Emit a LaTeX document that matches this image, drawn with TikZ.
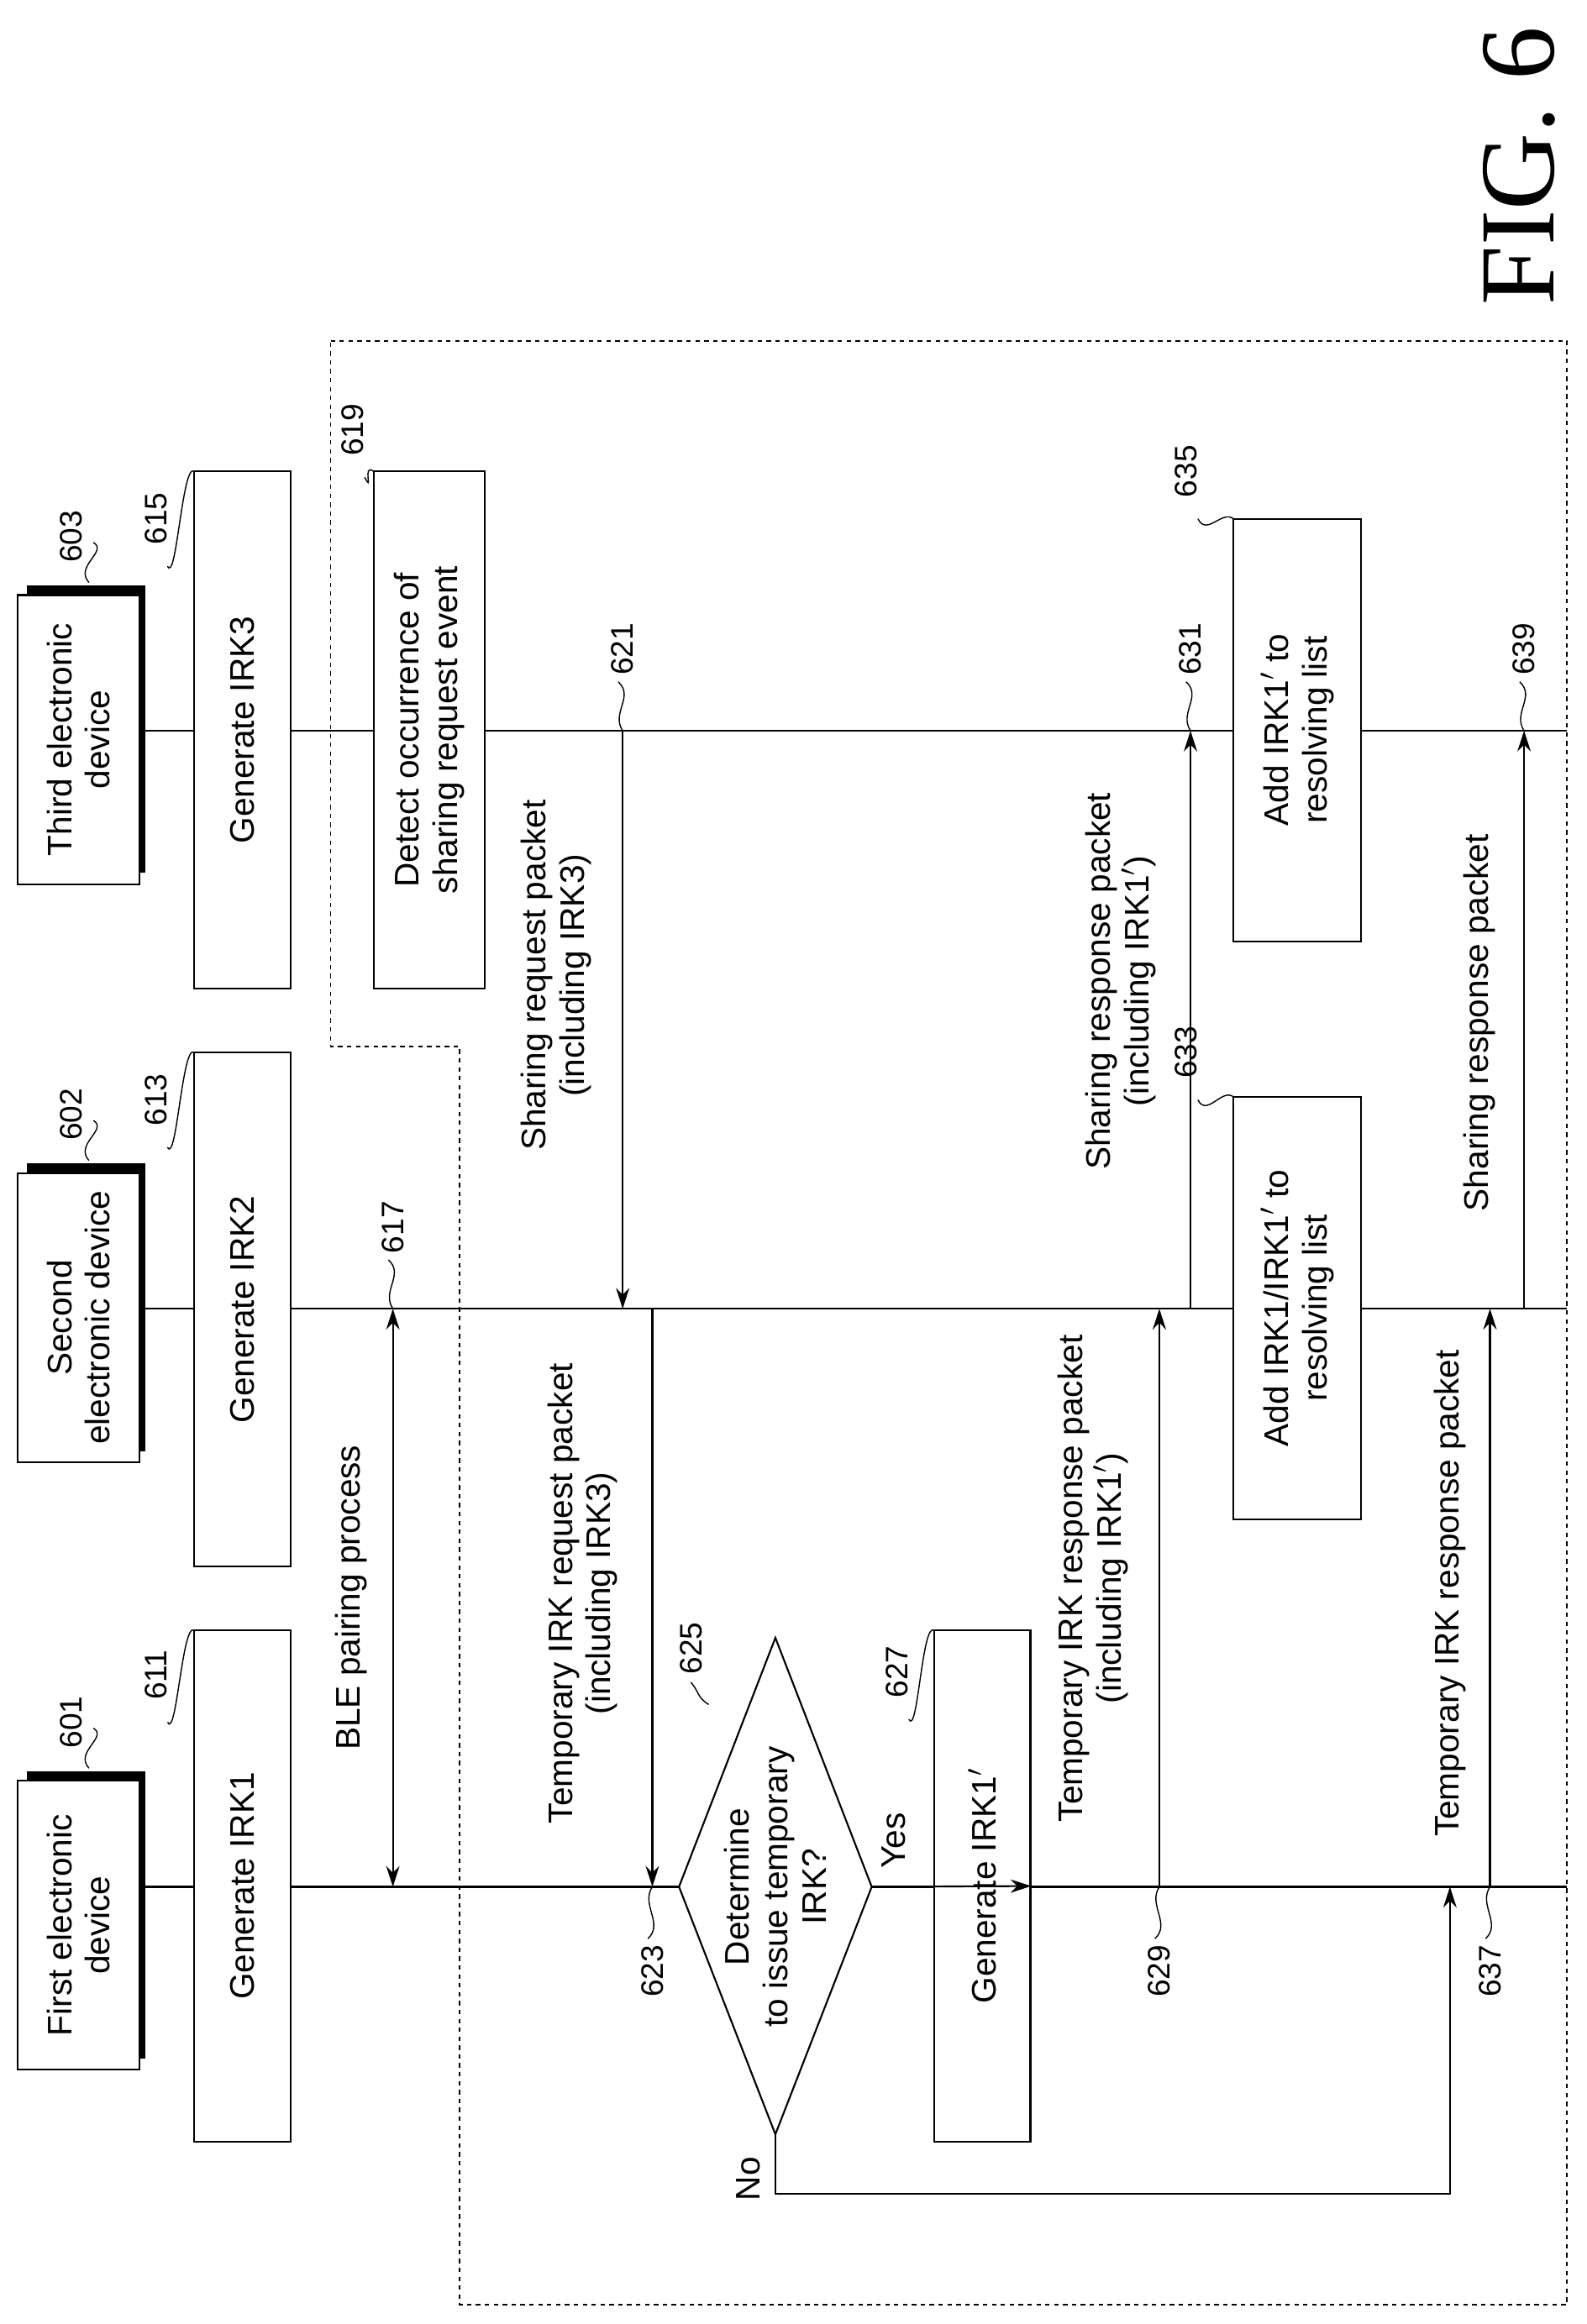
\documentclass[tikz,border=0pt]{standalone}
\usepackage{fontspec}
\setmainfont{Liberation Sans}
\newfontfamily\figfont{Liberation Serif}
\usetikzlibrary{arrows.meta}
\begin{document}
\begin{tikzpicture}[x=1pt,y=-1pt,
  every node/.style={font=\fontsize{23}{26}\selectfont},
  box/.style={draw,line width=1.2pt,fill=white,inner sep=0pt},
  txt/.style={rotate=90,align=center},
  msg/.style={line width=1.2pt,-{Stealth[length=14pt,width=9pt]}},
  life/.style={line width=1.2pt},
  lbl/.style={rotate=90,font=\fontsize{21}{24}\selectfont},
  sq/.style={line width=0.8pt}]
\useasboundingbox (0,0) rectangle (1070,1568);
% dashed region
\draw[dashed,line width=1pt] (223,230) -- (1057,230) -- (1057,1555) -- (310,1555) -- (310,706) -- (223,706) -- cycle;
% lifelines
\coordinate (l1s) at (97,1273); \coordinate (l1e) at (1057,1273);
\coordinate (l2s) at (97,883); \coordinate (l2e) at (1057,883);
\coordinate (l3s) at (97,493); \coordinate (l3e) at (1057,493);
\draw[life] (l1s) -- (l1e); \draw[life] (l2s) -- (l2e); \draw[life] (l3s) -- (l3e);
% device boxes with shadow
\foreach \c/\t/\n in {1295/{First electronic\\device}/d1, 885/{Second\\electronic device}/d2, 495/{Third electronic\\device}/d3}{
  \fill (18,\c-100) rectangle (98,\c+94);
  \node[box,minimum width=82pt,minimum height=195pt,anchor=center] (\n) at (53,\c+4) {};
  \node[txt] at (53,\c+4) {\t};
}
% generate boxes
\node[box,minimum width=65pt,minimum height=345pt] (b611) at (163.5,1272.5) {};
\node[txt] at (b611) {Generate IRK1};
\node[box,minimum width=65pt,minimum height=347pt] (b613) at (163.5,883.5) {};
\node[txt] at (b613) {Generate IRK2};
\node[box,minimum width=65pt,minimum height=349pt] (b615) at (163.5,492.5) {};
\node[txt] at (b615) {Generate IRK3};
\node[box,minimum width=75pt,minimum height=349pt] (b619) at (289.5,492.5) {};
\node[txt] at (b619) {Detect occurrence of\\sharing request event};
% BLE
\coordinate (ble1) at (265,883); \coordinate (ble2) at (265,1273);
\draw[line width=1.2pt,{Stealth[length=14pt,width=9pt]}-{Stealth[length=14pt,width=9pt]}] (ble1) -- (ble2);
\node[txt] at (237,1078) {BLE pairing process};
% 621
\coordinate (a621s) at (420,493); \coordinate (a621e) at (420,883);
\draw[msg] (a621s) -- (a621e);
\node[txt] at (375,658) {Sharing request packet\\(including IRK3)};
% 623
\coordinate (a623s) at (440,883); \coordinate (a623e) at (440,1273);
\draw[msg] (a623s) -- (a623e);
\node[txt] at (393,1075) {Temporary IRK request packet\\(including IRK3)};
% diamond
\coordinate (dL) at (458,1273); \coordinate (dR) at (588,1273);
\coordinate (dT) at (523,1105); \coordinate (dB) at (523,1440);
\draw[line width=1.2pt,fill=white] (dL) -- (dT) -- (dR) -- (dB) -- cycle;
\node[txt] (dia) at (523,1273) {Determine\\to issue temporary\\IRK?};
% 627
\node[box,minimum width=65pt,minimum height=345pt] (b627) at (662.5,1272.5) {};
\node[txt] at (b627) {Generate IRK1$'$};
\draw[msg] (dR) -- (b627.east);
\node[txt] at (603,1242) {Yes};
% No path
\coordinate (n1) at (523,1480); \coordinate (n2) at (978,1480); \coordinate (n3) at (978,1273);
\draw[msg] (dB) -- (n1) -- (n2) -- (n3);
\node[txt] at (505,1470) {No};
% 629
\coordinate (a629s) at (782,1273); \coordinate (a629e) at (782,883);
\draw[msg] (a629s) -- (a629e);
\node[txt] at (737,1065) {Temporary IRK response packet\\(including IRK1$'$)};
% 631
\coordinate (a631s) at (803,883); \coordinate (a631e) at (803,493);
\draw[msg] (a631s) -- (a631e);
\node[txt] at (756,662) {Sharing response packet\\(including IRK1$'$)};
% 633, 635
\node[box,minimum width=86pt,minimum height=285pt] (b633) at (875,882.5) {};
\node[txt] at (b633) {Add IRK1/IRK1$'$ to\\resolving list};
\node[box,minimum width=86pt,minimum height=285pt] (b635) at (875,492.5) {};
\node[txt] at (b635) {Add IRK1$'$ to\\resolving list};
% 637
\coordinate (a637s) at (1005,1273); \coordinate (a637e) at (1005,883);
\draw[msg] (a637s) -- (a637e);
\node[txt] at (978,1075) {Temporary IRK response packet};
% 639
\coordinate (a639s) at (1028,883); \coordinate (a639e) at (1028,493);
\draw[msg] (a639s) -- (a639e);
\node[txt] at (998,690) {Sharing response packet};
% reference labels with squiggles
\foreach \x/\y/\t/\ex/\ey in {48/1162/601/60/1193, 48/752/602/60/783, 48/362/603/60/393}{
  \node[lbl] at (\x,\y) {\t};
  \draw[sq] (\x+15,\y+4) .. controls (\x+25,\y+10) and (\x+2,\y+20) .. (\ex,\ey);
}
\foreach \x/\y/\t/\ex/\ey in {105/1130/611/131/1100, 105/742/613/131/710, 105/350/615/131/318,
   238/290/619/252/318, 605/1128/627/630/1100, 800/710/633/832/740, 800/318/635/832/350}{
  \node[lbl] at (\x,\y) {\t};
  \draw[sq] (\x+8,\y+32) .. controls (\x+14,\y+44) and (\ex-8,\ey-6) .. (\ex,\ey);
}
\foreach \x/\y/\t/\ex/\ey in {265/828/617/265/883, 420/438/621/420/493, 803/438/631/803/493, 1028/438/639/1028/493,
   782/1330/629/782/1273, 440/1330/623/440/1273, 1005/1330/637/1005/1273, 466/1112/625/478/1150}{
  \node[lbl] at (\x,\y) {\t};
}
\foreach \x/\y/\ex/\ey in {265/850/265/883, 420/460/420/493, 803/460/803/493, 1028/460/1028/493}{
  \draw[sq] (\x-3,\y) .. controls (\x+8,\y+10) and (\ex-8,\ey-12) .. (\ex,\ey);
}
\foreach \x/\y/\ex/\ey in {782/1308/782/1273, 440/1308/440/1273, 1005/1308/1005/1273}{
  \draw[sq] (\x-3,\y) .. controls (\x+8,\y-10) and (\ex-8,\ey+12) .. (\ex,\ey);
}
\draw[sq] (466,1135) .. controls (472,1142) and (470,1145) .. (478,1150);
\node[rotate=90,font=\figfont\fontsize{72}{72}\selectfont] at (1025,112) {FIG. 6};
\end{tikzpicture}
\end{document}
